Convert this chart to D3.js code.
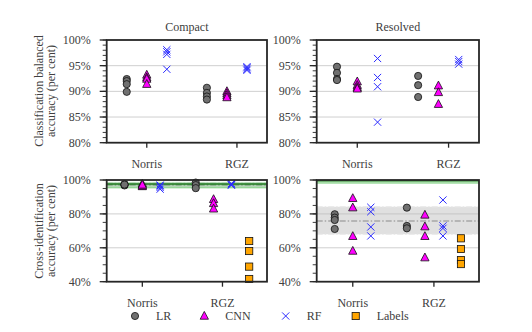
<!DOCTYPE html>
<html><head><meta charset="utf-8">
<script src="https://cdn.jsdelivr.net/npm/d3@7"></script>
<style>body{margin:0;background:#fff}svg{display:block}</style>
</head><body>
<svg id="c" width="532" height="332"></svg>
<script>
// ---------- data ----------
const categories = ["Norris", "RGZ"];
const seriesNames = ["LR", "CNN", "RF", "Labels"];
const panelTitles = ["Compact", "Resolved"];
const topTicks = [80, 85, 90, 95, 100];
const bottomTicks = [40, 60, 80, 100];

// Classification balanced accuracy, [Norris, RGZ]
const compactLR  = [[92.4, 92.0, 91.4, 89.9], [90.7, 89.7, 89.0, 88.4]];
const compactCNN = [[93.2, 92.7, 92.4, 91.4], [90.0, 89.6, 89.2, 88.8]];
const compactRF  = [[98.1, 97.7, 97.2, 94.3], [94.8, 94.6, 94.3, 94.1]];
const resolvedLR  = [[94.8, 93.6, 92.4, 92.2], [93.0, 91.2, 88.9]];
const resolvedCNN = [[91.9, 91.2, 90.8, 90.5], [91.1, 89.8, 87.5]];
const resolvedRF  = [[96.4, 92.7, 90.9, 84.0], [96.2, 95.8, 95.3]];

// Cross-identification accuracy, [Norris, RGZ]
const xidCompactLR  = [[97.6, 97.1, 96.8, 97.3], [98.5, 97.0, 95.2]];
const xidCompactCNN = [[97.8, 96.2, 96.6, 97.1], [88.6, 86.2, 83.0]];
const xidCompactRF  = [[97.0, 95.6, 94.6, 96.5], [97.9, 97.3, 96.9]];
const xidCompactLabels = [[], [64.0, 58.1, 48.9, 41.6]];
const xidResolvedLR  = [[79.8, 77.8, 76.4, 71.1], [83.7, 72.9, 71.5]];
const xidResolvedCNN = [[89.2, 83.7, 66.8, 58.1], [79.4, 72.5, 66.8, 54.2]];
const xidResolvedRF  = [[83.9, 81.3, 72.3, 67.0], [88.2, 72.9, 71.5, 67.0]];
const xidResolvedLabels = [[], [65.6, 59.3, 52.8, 50.4]];

// reference bands for cross-identification [low, mid, high]
const compactGreenBand = [95.4, 97.6, 98.9];
const compactGrayBand  = [96.0, 97.1, 98.3];
const resolvedGreenBand = [98.2, 99.6, 100];
const resolvedGrayBand  = [68.0, 75.8, 84.2];

// ---------- drawing ----------
const FONT = "'Liberation Serif', 'Times New Roman', serif";
const svg = d3.select("#c");
const colors = {LR: "#707070", CNN: "#ff00ff", RF: "#2a2aff", Labels: "#ffa500"};
const slot = {LR: 1, CNN: 2, RF: 3, Labels: 4};

const cols = [[106.7, 267], [316.7, 479]];
const rows = [[40, 142.7], [180, 281.7]];

function txt(sel) {
  return sel.attr("font-family", FONT).attr("font-size", 12).attr("fill", "#404040");
}

function marker(g, type, x, y) {
  if (type === "LR") {
    g.append("circle").attr("cx", x).attr("cy", y).attr("r", 3.6)
      .attr("fill", colors.LR).attr("stroke", "#111").attr("stroke-width", 0.8);
  } else if (type === "CNN") {
    const s = 4.6;
    g.append("path").attr("d", `M${x},${y - s}L${x + s * 0.9},${y + s * 0.7}L${x - s * 0.9},${y + s * 0.7}Z`)
      .attr("fill", colors.CNN).attr("stroke", "#111").attr("stroke-width", 0.8);
  } else if (type === "RF") {
    const s = 3.6;
    g.append("path").attr("d", `M${x - s},${y - s}L${x + s},${y + s}M${x - s},${y + s}L${x + s},${y - s}`)
      .attr("stroke", colors.RF).attr("stroke-width", 1).attr("fill", "none");
  } else {
    const s = 3.6;
    g.append("rect").attr("x", x - s).attr("y", y - s).attr("width", 2 * s).attr("height", 2 * s)
      .attr("fill", colors.Labels).attr("stroke", "#111").attr("stroke-width", 0.8);
  }
}

function panel(ci, ri, data, yDomain, yTicks, minorStep, xMax, bands) {
  const [x0, x1] = cols[ci], [y0, y1] = rows[ri];
  const x = d3.scaleLinear().domain([0, xMax]).range([x0, x1]);
  const y = d3.scaleLinear().domain(yDomain).range([y1, y0]);
  const g = svg.append("g");

  // grid
  g.selectAll(".grid").data(yTicks.slice(1, -1)).join("line")
    .attr("x1", x0).attr("x2", x1).attr("y1", d => y(d)).attr("y2", d => y(d))
    .attr("stroke", "#cfcfcf").attr("stroke-width", 1);

  // bands
  if (bands) {
    const [gray, green] = bands;
    g.append("rect").attr("x", x0).attr("width", x1 - x0)
      .attr("y", y(gray[2])).attr("height", y(gray[0]) - y(gray[2]))
      .attr("fill", "#bbbbbb").attr("opacity", 0.45);
    [gray[0], gray[2]].forEach(v => g.append("line").attr("x1", x0).attr("x2", x1)
      .attr("y1", y(v)).attr("y2", y(v)).attr("stroke", "#e6e6e6").attr("stroke-width", 1.2)
      .attr("stroke-dasharray", "6,2,1.5,2"));
    g.append("line").attr("x1", x0).attr("x2", x1).attr("y1", y(gray[1])).attr("y2", y(gray[1]))
      .attr("stroke", "#8a8a8a").attr("stroke-width", 1.2).attr("stroke-dasharray", "6,2,1.5,2");
    g.append("rect").attr("x", x0).attr("width", x1 - x0)
      .attr("y", y(green[2])).attr("height", y(green[0]) - y(green[2]))
      .attr("fill", "#3cb043").attr("opacity", 0.3);
    g.append("line").attr("x1", x0).attr("x2", x1).attr("y1", y(green[0])).attr("y2", y(green[0]))
      .attr("stroke", "#7fd07f").attr("stroke-width", 1);
    g.append("line").attr("x1", x0).attr("x2", x1).attr("y1", y(green[1])).attr("y2", y(green[1]))
      .attr("stroke", "#1e7a1e").attr("stroke-width", 1.6);
  }

  // points
  seriesNames.forEach(s => {
    if (!data[s]) return;
    data[s].forEach((vals, k) => {
      const px = x(slot[s] + 4 * k);
      vals.forEach(v => marker(g, s, px, y(v)));
    });
  });

  // frame
  g.append("rect").attr("x", x0).attr("y", y0).attr("width", x1 - x0).attr("height", y1 - y0)
    .attr("fill", "none").attr("stroke", "#262626").attr("stroke-width", 1.8);

  // y axis ticks
  const minor = d3.range(yDomain[0], yDomain[1] + 0.001, minorStep);
  g.selectAll(".mt").data(minor).join("line")
    .attr("x1", x0 - 4).attr("x2", x0).attr("y1", d => y(d)).attr("y2", d => y(d))
    .attr("stroke", "#262626").attr("stroke-width", 0.9);
  g.selectAll(".Mt").data(yTicks).join("line")
    .attr("x1", x0 - 7).attr("x2", x0).attr("y1", d => y(d)).attr("y2", d => y(d))
    .attr("stroke", "#262626").attr("stroke-width", 1.3);
  txt(g.selectAll(".yl").data(yTicks).join("text"))
    .attr("x", x0 - 16).attr("y", d => y(d) + 4).attr("text-anchor", "end")
    .text(d => d + "%");

  // x ticks
  const xt = [2, 6.5];
  xt.forEach((t, k) => {
    g.append("line").attr("x1", x(t)).attr("x2", x(t)).attr("y1", y1).attr("y2", y1 + 5)
      .attr("stroke", "#262626").attr("stroke-width", 1.3);
    txt(g.append("text")).attr("x", x(t)).attr("y", y1 + 25).attr("text-anchor", "middle")
      .text(categories[k]);
  });
}

panel(0, 0, {LR: compactLR, CNN: compactCNN, RF: compactRF}, [80, 100], topTicks, 1, 8);
panel(1, 0, {LR: resolvedLR, CNN: resolvedCNN, RF: resolvedRF}, [80, 100], topTicks, 1, 8);
panel(0, 1, {LR: xidCompactLR, CNN: xidCompactCNN, RF: xidCompactRF, Labels: xidCompactLabels},
      [40, 100], bottomTicks, 5, 9, [compactGrayBand, compactGreenBand]);
panel(1, 1, {LR: xidResolvedLR, CNN: xidResolvedCNN, RF: xidResolvedRF, Labels: xidResolvedLabels},
      [40, 100], bottomTicks, 5, 9, [resolvedGrayBand, resolvedGreenBand]);

// titles
panelTitles.forEach((t, i) => {
  txt(svg.append("text")).attr("x", (cols[i][0] + cols[i][1]) / 2).attr("y", 31)
    .attr("text-anchor", "middle").text(t);
});

// y labels
function ylabel(lines, cy) {
  lines.forEach((l, i) => {
    txt(svg.append("text")).attr("transform", `translate(${43 + i * 11.5},${cy}) rotate(-90)`)
      .attr("text-anchor", "middle").text(l);
  });
}
ylabel(["Classification balanced", "accuracy (per cent)"], 91);
ylabel(["Cross-identification", "accuracy (per cent)"], 231);

// legend
const legendX = [135, 204.3, 285.7, 355.7];
seriesNames.forEach((s, i) => {
  const g = svg.append("g");
  marker(g, s, legendX[i], 316);
  txt(svg.append("text")).attr("x", legendX[i] + 21).attr("y", 320).text(s);
});
</script>
</body></html>
